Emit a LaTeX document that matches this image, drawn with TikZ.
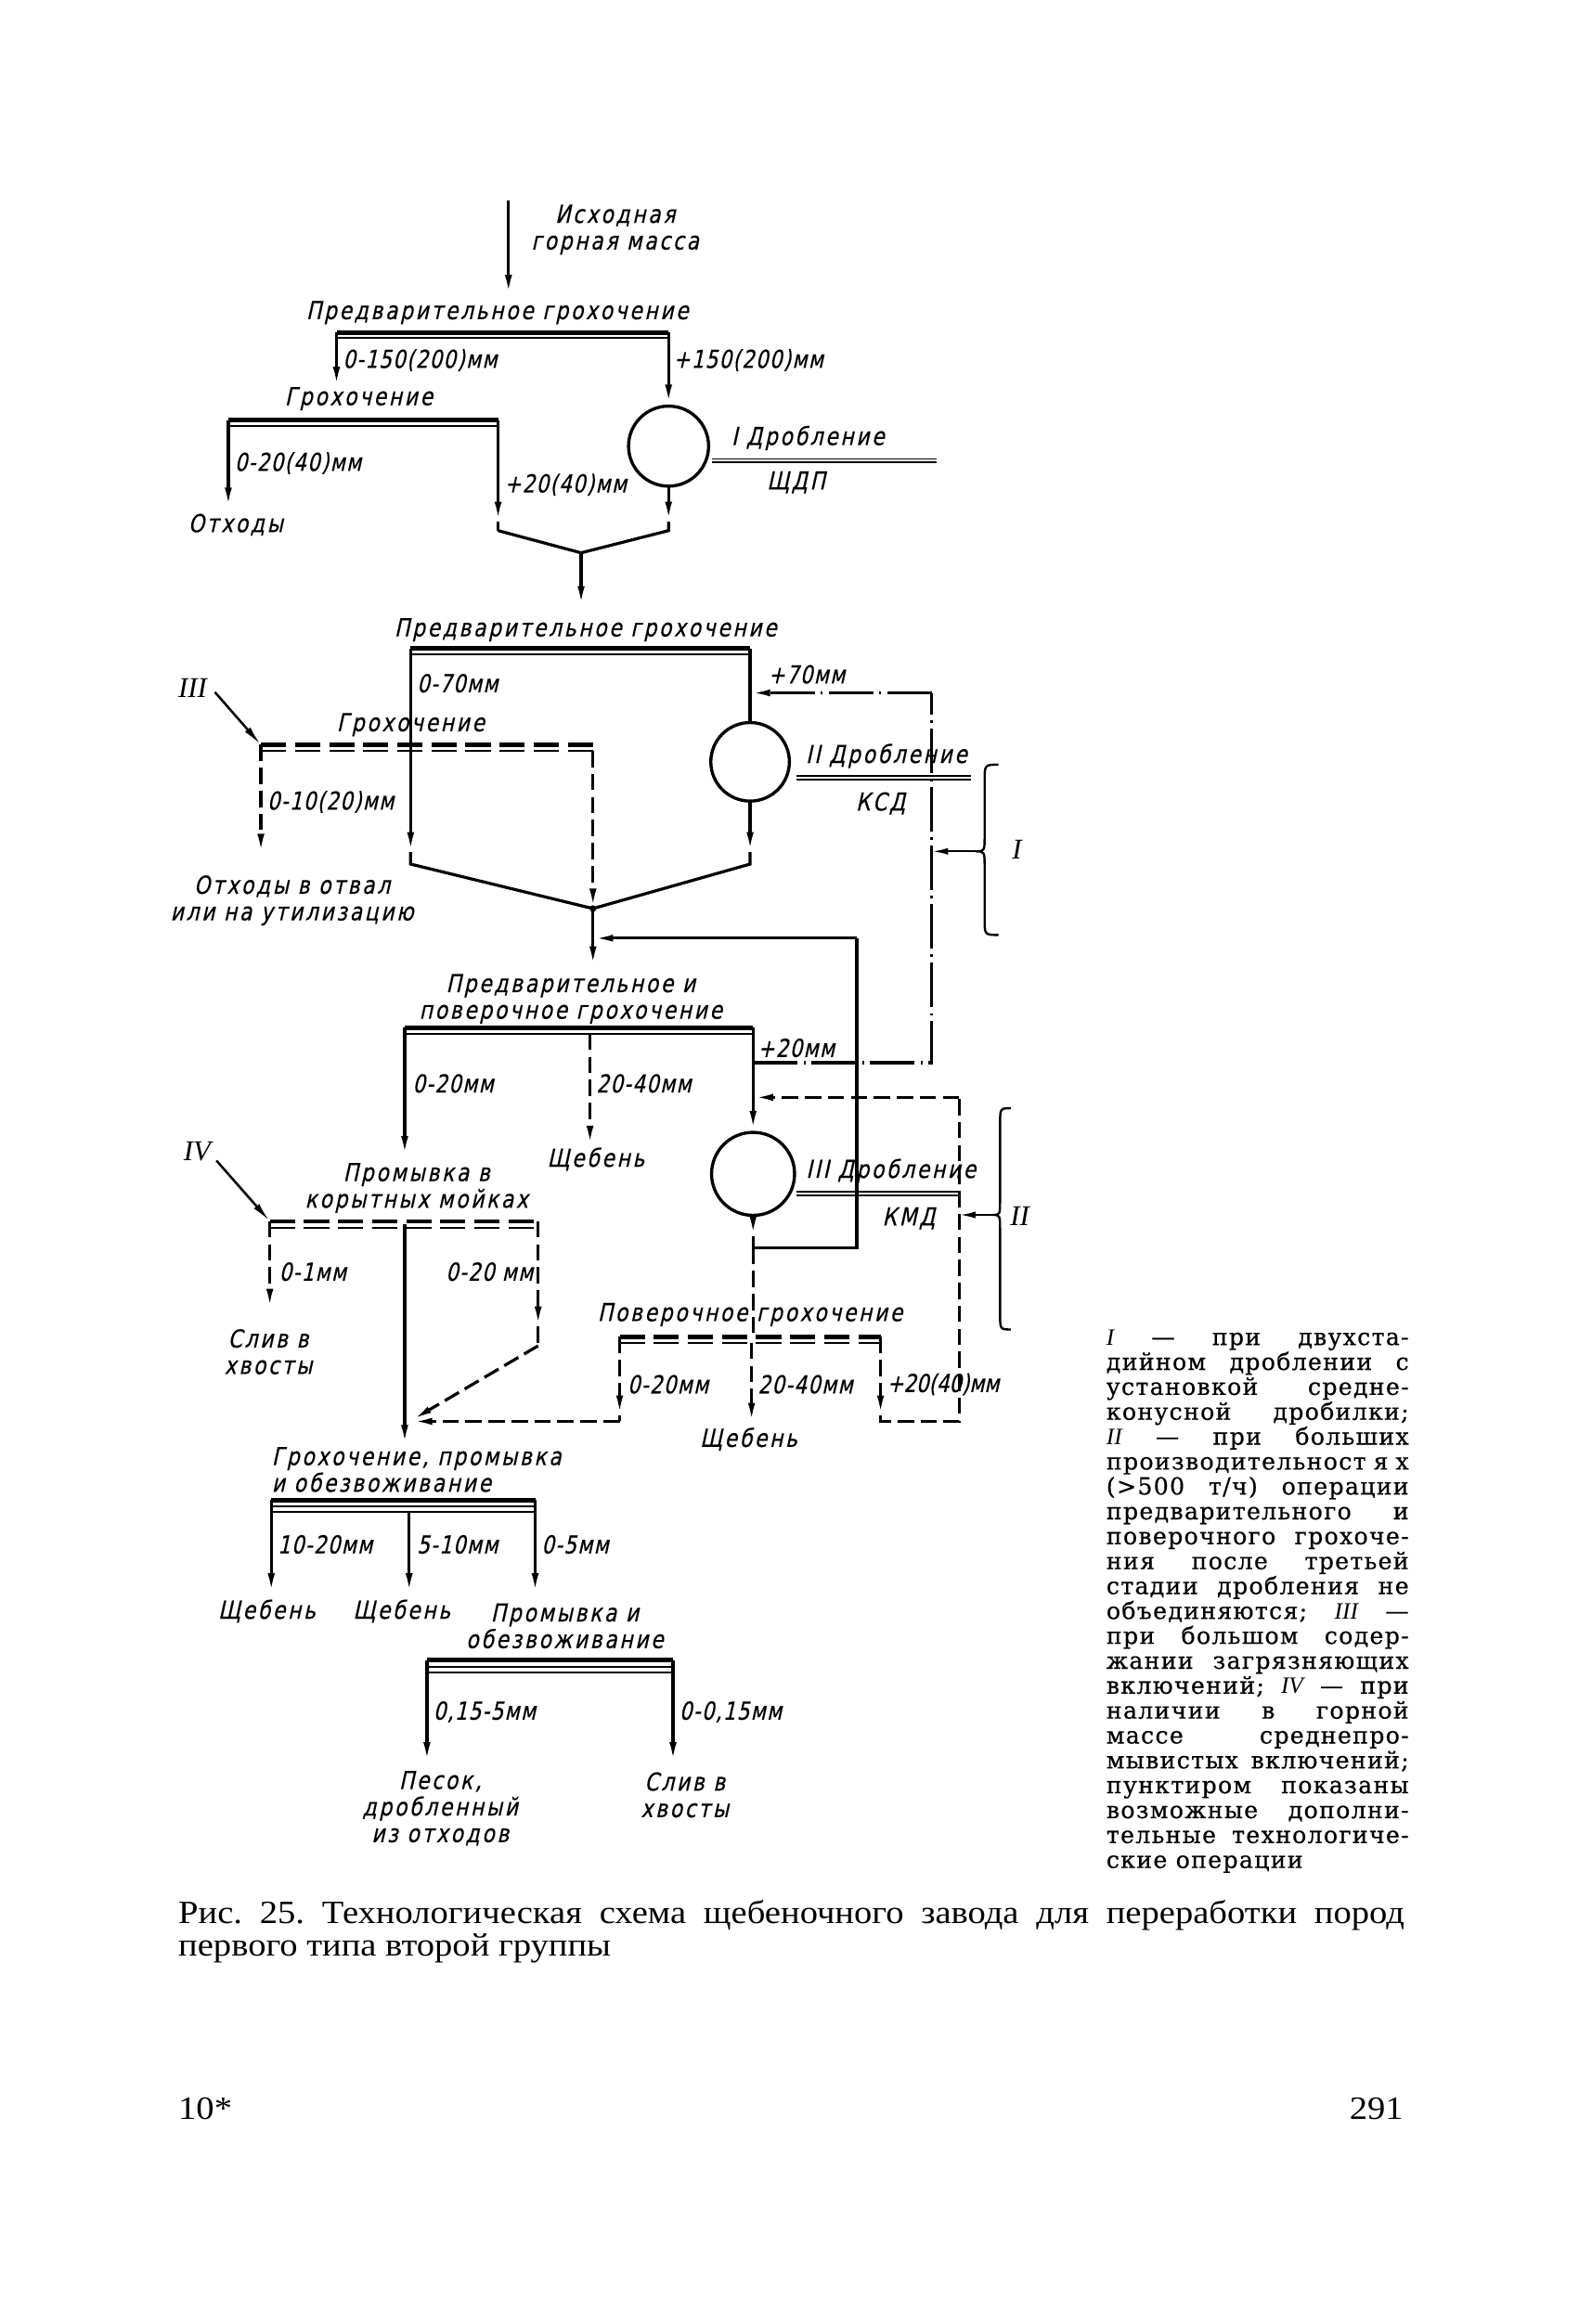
\documentclass[tikz,border=0pt]{standalone}
\usepackage{fontspec}
\setmainfont{Liberation Serif}
\newfontfamily\gost{DejaVu Sans}[FakeStretch=0.82,FakeSlant=0.22,LetterSpace=10,FakeBold=0.4]
\newfontfamily\gostn{DejaVu Sans}[FakeStretch=0.80,FakeSlant=0.22,LetterSpace=5,FakeBold=0.4]
\newfontfamily\notef{DejaVu Serif}[LetterSpace=5,FakeBold=0.5]
\newfontfamily\romf{Liberation Serif}
\newfontfamily\captf{Liberation Serif}[FakeStretch=1.1]
\usetikzlibrary{arrows.meta,calc}
\frenchspacing
\begin{document}
\begin{tikzpicture}[x=0.2mm,y=-0.2mm,
  ln/.style={line width=1.15pt},
  tip/.style={-{Latex[length=2.7mm,width=0.95mm]}},
  arr/.style={ln,tip},
  dsh/.style={ln,dash pattern=on 2.2mm off 0.9mm},
  darr/.style={dsh,tip},
  dd/.style={ln,dash pattern=on 6mm off 0.8mm on 0.3mm off 0.8mm},
  ddarr/.style={dd,tip},
  tbar/.style={line width=1.7pt},
  nbar/.style={line width=0.75pt},
  tdbar/.style={line width=1.7pt,dash pattern=on 3.4mm off 1.2mm},
  ndbar/.style={line width=0.75pt,dash pattern=on 3.4mm off 1.2mm},
  frac/.style={line width=0.65pt},
  crusher/.style={draw,circle,line width=1.2pt,inner sep=0},
  lbl/.style={font=\gost\fontsize{9.5}{10.2}\selectfont,inner sep=0,align=center},
  lbn/.style={font=\gostn\fontsize{9.5}{10.2}\selectfont,inner sep=0,anchor=west},
  rom/.style={font=\romf\itshape\fontsize{11}{12}\selectfont,inner sep=0},
  note/.style={font=\notef\fontsize{9}{10}\selectfont,inner sep=0,anchor=base west},
  capt/.style={font=\captf\fontsize{12.5}{14}\selectfont\frenchspacing,inner sep=0,anchor=base west}
]
\useasboundingbox[fill=white] (0,0) rectangle (1065,1568);

% ---------- stage I ----------
\node[lbl] (src) at (415,155) {Исходная\\горная масса};
\coordinate (in0) at (343,135);
\coordinate (in1) at (343,199);
\draw[arr] (in0) -- (in1);

\node[lbl] (t1) at (335.5,211) {Предварительное грохочение};
\coordinate (s1l) at (227,224.4);
\coordinate (s1r) at (451,224.4);
\draw[tbar] (s1l) -- (s1r);
\draw[nbar] ($(s1l)+(0,3.6)$) -- ($(s1r)+(0,3.6)$);
\node[crusher,minimum size=10.8mm] (c1) at (451,301) {};
\coordinate (s1a) at (227,261);
\draw[arr] (s1l) -- (s1a);
\draw[arr] (s1r) -- (c1.north);
\node[lbn] (l1) at (231,243) {0-150(200)мм};
\node[lbn] (r1) at (454,243) {+150(200)мм};

\node[lbl] (t2) at (242,269) {Грохочение};
\coordinate (s2l) at (154,283.5);
\coordinate (s2r) at (336,283.5);
\draw[tbar] (s2l) -- (s2r);
\draw[nbar] ($(s2l)+(0,3.8)$) -- ($(s2r)+(0,3.8)$);
\coordinate (s2a) at (154,342.5);
\draw[arr] (s2l) -- (s2a);
\node[lbn] (l2) at (158,312.5) {0-20(40)мм};
\node[lbl] (otx) at (159,354) {Отходы};
\coordinate (s2b) at (336,352);
\coordinate (s2c) at (336,358);
\draw[arr] (s2r) -- (s2b);
\draw[ln] (s2b) -- (s2c);
\node[lbn] (r2) at (340,327) {+20(40)мм};

\coordinate (c1a) at (451,352);
\coordinate (c1b) at (451,358);
\coordinate (m1) at (392,373);
\coordinate (m1a) at (392,409);
\draw[arr] (c1.south) -- (c1a);
\draw[ln] (c1a) -- (c1b) -- (m1);
\draw[ln] (s2c) -- (m1);
\draw[arr] (m1) -- (m1a);

\node[lbl] (d1) at (545,295.5) {I Дробление};
\coordinate (f1l) at (480.5,309.7);
\coordinate (f1r) at (631.6,309.7);
\draw[frac] (f1l) -- (f1r);
\draw[frac] ($(f1l)+(0,2.3)$) -- ($(f1r)+(0,2.3)$);
\node[lbl] (k1) at (537,325.5) {ЩДП};

% ---------- stage II ----------
\node[lbl] (t3) at (395,425) {Предварительное грохочение};
\coordinate (s3l) at (277,437.5);
\coordinate (s3r) at (506,437.5);
\draw[tbar] (s3l) -- (s3r);
\draw[nbar] ($(s3l)+(0,3.8)$) -- ($(s3r)+(0,3.8)$);
\node[crusher,minimum size=10.6mm] (c2) at (506,514) {};
\coordinate (J) at (400,613);
\coordinate (s3a) at (277,575);
\coordinate (s3b) at (277,583);
\draw[arr] (s3l) -- (s3a);
\draw[ln] (s3a) -- (s3b) -- (J);
\draw[ln] (s3r) -- (c2.north);
\node[lbn] (l3) at (281,461) {0-70мм};
\node[lbn] (r3) at (518,455) {+70мм};
\coordinate (c2a) at (506,575);
\coordinate (c2b) at (506,583);
\draw[arr] (c2.south) -- (c2a);
\draw[ln] (c2a) -- (c2b) -- (J);

\node[lbl] (d2) at (598,510) {II Дробление};
\coordinate (f2l) at (537,523.5);
\coordinate (f2r) at (654.8,523.5);
\draw[frac] (f2l) -- (f2r);
\draw[frac] ($(f2l)+(0,2.3)$) -- ($(f2r)+(0,2.3)$);
\node[lbl] (k2) at (594,542) {КСД};

% dashed screen III
\node[rom] (n3) at (130,464) {III};
\coordinate (n3a) at (145,467);
\coordinate (g3l) at (176,502.5);
\coordinate (g3r) at (400,502.5);
\draw[arr,line width=0.9pt] (n3a) -- (g3l);
\node[lbl] (t4) at (277,489) {Грохочение};
\draw[tdbar] (g3l) -- (g3r);
\draw[ndbar] ($(g3l)+(0,4.2)$) -- ($(g3r)+(0,4.2)$);
\coordinate (g3a) at (176,576);
\draw[darr] (g3l) -- (g3a);
\node[lbn] (l4) at (180,541) {0-10(20)мм};
\node[lbl] (otv) at (197,607.5) {Отходы в отвал\\или на утилизацию};
\draw[darr] ($(g3r)+(0,4.2)$) -- (J);
\fill (J) circle (0.45mm);
\coordinate (Ja) at (400,652);
\draw[arr] (J) -- (Ja);

% dash-dot by-pass (+20 mm to II crusher)
\coordinate (dd1) at (508,717);
\coordinate (dd2) at (628.5,717);
\coordinate (dd3) at (628.5,467.5);
\coordinate (dd4) at (506,467.5);
\draw[dd] (dd1) -- (dd2) -- (dd3);
\draw[ddarr] (dd3) -- (dd4);

% brace I
\coordinate (b1t) at (673.6,515.9);
\coordinate (b1p) at (657.9,574.4);
\coordinate (b1b) at (673.6,630.8);
\coordinate (b1a) at (628.5,574.4);
\draw[line width=0.85pt] (b1t) .. controls (664.2,515.9) .. (664.2,527) -- (664.2,564)
  .. controls (664.2,574.4) .. (b1p) .. controls (664.2,574.4) .. (664.2,585)
  -- (664.2,620) .. controls (664.2,630.8) .. (b1b);
\draw[line width=0.85pt,-{Latex[length=2.2mm,width=0.9mm]}] (b1p) -- (b1a);
\node[rom] (nI) at (686,573) {I};

% ---------- stage III ----------
\node[lbl] (t5) at (385,674) {Предварительное и\\поверочное грохочение};
\coordinate (s5l) at (273,693.5);
\coordinate (s5r) at (508,693.5);
\draw[tbar] (s5l) -- (s5r);
\draw[nbar] ($(s5l)+(0,4)$) -- ($(s5r)+(0,4)$);
\node[crusher,minimum size=11.2mm] (c3) at (508,792) {};
\coordinate (s5a) at (273,780);
\draw[arr] (s5l) -- (s5a);
\node[lbn] (l5) at (278,731) {0-20мм};
\coordinate (s5m) at (398,697.5);
\coordinate (s5ma) at (398,773);
\draw[darr] (s5m) -- (s5ma);
\node[lbn] (m5) at (402,731) {20-40мм};
\node[lbl] (sch1) at (402,782) {Щебень};
\draw[arr] (s5r) -- (c3.north);
\node[lbn] (r5) at (511,707) {+20мм};

\node[lbl] (d3) at (601,790) {III Дробление};
\coordinate (f3l) at (537,804);
\coordinate (f3r) at (647,804);
\draw[frac] (f3l) -- (f3r);
\draw[frac] ($(f3l)+(0,2.4)$) -- ($(f3r)+(0,2.4)$);
\node[lbl] (k3) at (613,822) {КМД};

% return from III crusher
\coordinate (c3a) at (508,834);
\coordinate (c3b) at (508,842);
\coordinate (rt1) at (578,842);
\coordinate (rt2) at (578,633);
\coordinate (rt3) at (400,633);
\draw[arr] (c3.south) -- (c3a);
\draw[ln] (c3a) -- (c3b) -- (rt1) -- (rt2);
\draw[arr] (rt2) -- (rt3);

% brace II
\coordinate (b2t) at (681.9,747.7);
\coordinate (b2p) at (669.4,819.7);
\coordinate (b2b) at (681.9,897);
\coordinate (b2a) at (647,819.7);
\draw[line width=0.85pt] (b2t) .. controls (674.6,747.7) .. (674.6,759) -- (674.6,810)
  .. controls (674.6,819.7) .. (b2p) .. controls (674.6,819.7) .. (674.6,830)
  -- (674.6,886) .. controls (674.6,897) .. (b2b);
\draw[line width=0.85pt,-{Latex[length=2.2mm,width=0.9mm]}] (b2p) -- (b2a);
\node[rom] (nII) at (688,820.5) {II};

% washing (IV)
\node[rom] (n4) at (133,777) {IV};
\coordinate (n4a) at (146,783);
\coordinate (w4l) at (182,824);
\coordinate (w4r) at (363,824);
\draw[arr,line width=0.9pt] (n4a) -- (w4l);
\node[lbl] (t6) at (281,801.5) {Промывка в\\корытных мойках};
\draw[tdbar] (w4l) -- (w4r);
\draw[ndbar] ($(w4l)+(0,4.2)$) -- ($(w4r)+(0,4.2)$);
\coordinate (w4a) at (182,883);
\draw[darr] (w4l) -- (w4a);
\node[lbn] (l6) at (188,858) {0-1мм};
\node[lbl] (sl1) at (181,912) {Слив в\\хвосты};
\coordinate (w4m) at (273,826);
\coordinate (w4ma) at (273,975);
\draw[arr] (w4m) -- (w4ma);
\coordinate (w4ra) at (363,895);
\coordinate (w4rb) at (363,908);
\coordinate (jn2) at (278,958);
\draw[darr] (w4r) -- (w4ra);
\draw[dsh] (w4ra) -- (w4rb);
\draw[darr] (w4rb) -- (jn2);
\node[lbn,anchor=east] (r6) at (360,858) {0-20 мм};

% check screening
\draw[dsh] (c3b) -- (508,902);
\node[lbl] (t7) at (506,887) {Поверочное грохочение};
\coordinate (p6l) at (418,902);
\coordinate (p6r) at (594,902);
\draw[tdbar] (p6l) -- (p6r);
\draw[ndbar] ($(p6l)+(0,4)$) -- ($(p6r)+(0,4)$);
\coordinate (p6a) at (418,955);
\coordinate (p6b) at (418,959);
\coordinate (p6c) at (278,959);
\draw[darr] (p6l) -- (p6a);
\draw[dsh] (p6a) -- (p6b);
\draw[darr] (p6b) -- (p6c);
\node[lbn] (l7) at (423,934) {0-20мм};
\coordinate (p6m) at (507,906);
\coordinate (p6ma) at (507,960);
\draw[darr] (p6m) -- (p6ma);
\node[lbn] (m7) at (511,934) {20-40мм};
\node[lbl] (sch2) at (505,971) {Щебень};
\coordinate (p6ra) at (594,955);
\coordinate (p6rb) at (594,959);
\coordinate (p6rc) at (647,959);
\coordinate (p6rd) at (647,740.4);
\coordinate (p6re) at (508,740.4);
\draw[darr] (p6r) -- (p6ra);
\draw[dsh] (p6ra) -- (p6rb) -- (p6rc) -- (p6rd);
\draw[darr] (p6rd) -- (p6re);
\node[lbn,font=\gostn\addfontfeature{LetterSpace=0}\fontsize{9.5}{10.2}\selectfont] (r7) at (598,934) {+20(40)мм};

% final screening
\node[lbl,align=left,anchor=west] (t8) at (183,991.5) {Грохочение, промывка\\и обезвоживание};
\coordinate (s7l) at (183,1012);
\coordinate (s7r) at (361,1012);
\draw[tbar] (s7l) -- (s7r);
\draw[nbar] ($(s7l)+(0,4.3)$) -- ($(s7r)+(0,4.3)$);
\draw[nbar] ($(s7l)+(0,8.3)$) -- ($(s7r)+(0,8.3)$);
\coordinate (s7a) at (183,1075);
\coordinate (s7m) at (276,1020);
\coordinate (s7ma) at (276,1075);
\coordinate (s7ra) at (361,1075);
\draw[arr] (s7l) -- (s7a);
\draw[arr] (s7m) -- (s7ma);
\draw[arr] (s7r) -- (s7ra);
\node[lbn] (l8) at (187,1042) {10-20мм};
\node[lbn] (m8) at (281,1042) {5-10мм};
\node[lbn] (r8) at (365,1042) {0-5мм};
\node[lbl] (sch3) at (180,1087) {Щебень};
\node[lbl] (sch4) at (271,1087) {Щебень};

\node[lbl] (t9) at (381,1097) {Промывка и\\обезвоживание};
\coordinate (s8l) at (288,1120);
\coordinate (s8r) at (454,1120);
\draw[tbar] (s8l) -- (s8r);
\draw[nbar] ($(s8l)+(0,4.5)$) -- ($(s8r)+(0,4.5)$);
\draw[nbar] ($(s8l)+(0,8.5)$) -- ($(s8r)+(0,8.5)$);
\coordinate (s8a) at (288,1189);
\coordinate (s8b) at (454,1189);
\draw[arr] (s8l) -- (s8a);
\draw[arr] (s8r) -- (s8b);
\node[lbn] (l9) at (292,1155) {0,15-5мм};
\node[lbn] (r9) at (458,1155) {0-0,15мм};
\node[lbl] (pes) at (297,1220) {Песок,\\дробленный\\из отходов};
\node[lbl] (sl2) at (462,1211) {Слив в\\хвосты};

% ---------- note ----------
\newcommand{\nl}[1]{\makebox[40.8mm][s]{#1}}
\newcommand{\ri}[1]{{\romf\itshape #1}}
\node[note] (nt1) at (746,907.5) {\nl{\ri{I} — при двухста-}};
\node[note] (nt2) at (746,924.3) {\nl{дийном дроблении с}};
\node[note] (nt3) at (746,941.1) {\nl{установкой средне-}};
\node[note] (nt4) at (746,957.9) {\nl{конусной дробилки;}};
\node[note] (nt5) at (746,974.7) {\nl{\ri{II} — при больших}};
\node[note] (nt6) at (746,991.5) {\nl{производительност я х}};
\node[note] (nt7) at (746,1008.3) {\nl{(>500 т/ч) операции}};
\node[note] (nt8) at (746,1025.1) {\nl{предварительного и}};
\node[note] (nt9) at (746,1041.9) {\nl{поверочного грохоче-}};
\node[note] (nt10) at (746,1058.7) {\nl{ния после третьей}};
\node[note] (nt11) at (746,1075.5) {\nl{стадии дробления не}};
\node[note] (nt12) at (746,1092.3) {\nl{объединяются; \ri{III} —}};
\node[note] (nt13) at (746,1109.1) {\nl{при большом содер-}};
\node[note] (nt14) at (746,1125.9) {\nl{жании загрязняющих}};
\node[note] (nt15) at (746,1142.7) {\nl{включений; \ri{IV} — при}};
\node[note] (nt16) at (746,1159.5) {\nl{наличии в горной}};
\node[note] (nt17) at (746,1176.3) {\nl{массе среднепро-}};
\node[note] (nt18) at (746,1193.1) {\nl{мывистых включений;}};
\node[note] (nt19) at (746,1209.9) {\nl{пунктиром показаны}};
\node[note] (nt20) at (746,1226.7) {\nl{возможные дополни-}};
\node[note] (nt21) at (746,1243.5) {\nl{тельные технологиче-}};
\node[note] (nt22) at (746,1260.3) {ские операции};

% ---------- caption ----------
\node[capt] (cap1) at (120,1298) {\makebox[165.4mm][s]{Рис. 25. Технологическая схема щебеночного завода для переработки пород}};
\node[capt] (cap2) at (120,1320) {первого типа второй группы};
\node[capt] (pg1) at (120,1430) {10*};
\node[capt,anchor=base east] (pg2) at (947,1430) {291};
\end{tikzpicture}
\end{document}
